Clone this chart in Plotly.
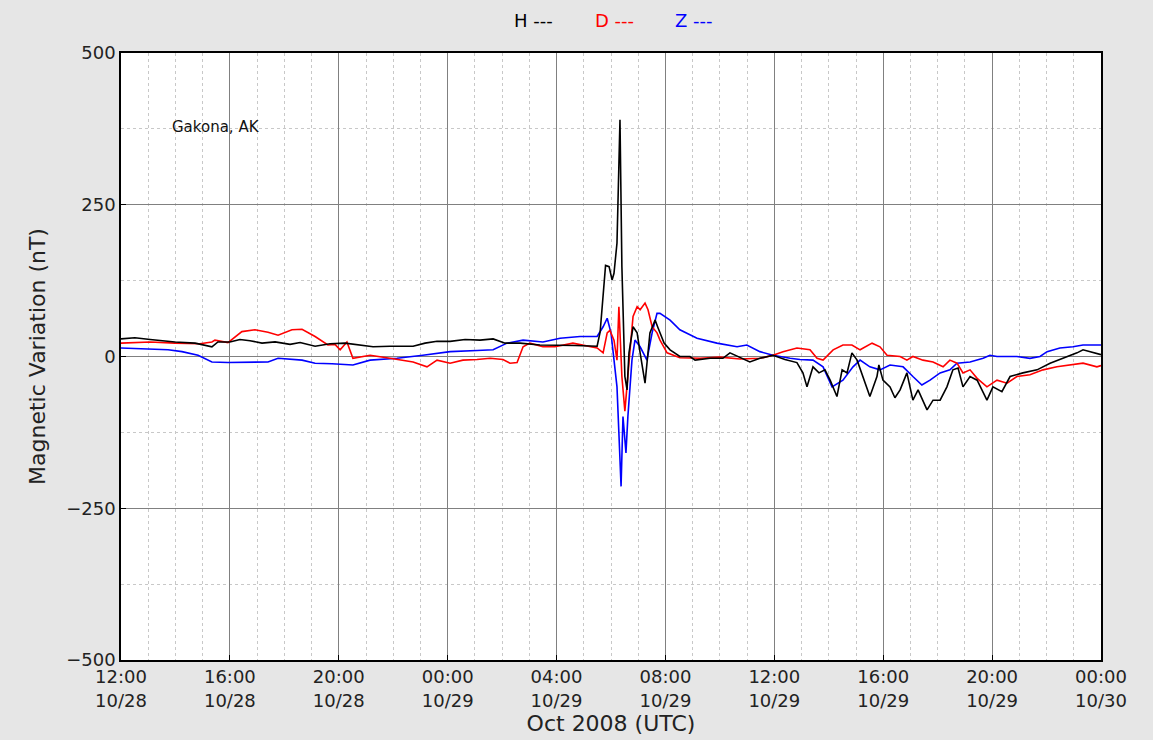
import pandas as pd
import plotly.graph_objects as go

# Hours after 2008-10-28 12:00 UTC, and magnetic variation (nT)
h_t = [0, 0.51, 1.07, 1.98, 2.72, 3.34, 3.56, 4.00, 4.37, 4.74, 5.18, 5.66, 6.21, 6.58, 7.13, 7.68,
       8.23, 8.60, 9.26, 9.88, 10.73, 11.17, 11.61, 12.09, 12.64, 13.19, 13.67, 14.11, 14.66, 15.39,
       16.02, 16.68, 17.49, 17.60, 17.80, 17.93, 18.04, 18.11, 18.22, 18.33, 18.40, 18.51, 18.59, 18.66,
       18.81, 18.96, 19.07, 19.25, 19.43, 19.62, 19.73, 19.95, 20.17, 20.53, 20.90, 21.09, 21.64,
       22.11, 22.37, 22.55, 23.10, 23.47, 23.95, 24.39, 24.83, 25.05, 25.20, 25.42, 25.64, 25.86,
       26.05, 26.30, 26.49, 26.67, 26.85, 27.04, 27.26, 27.51, 27.77, 27.84, 27.99, 28.25, 28.43,
       28.62, 28.87, 29.09, 29.28, 29.61, 29.83, 30.09, 30.34, 30.56, 30.75, 30.93, 31.19, 31.45,
       31.81, 32.03, 32.36, 32.66, 33.13, 33.65, 34.13, 34.60, 35.12, 35.34, 35.71, 36.00]
h_v = [29, 31, 28, 24, 22, 16, 24, 24, 28, 26, 22, 24, 20, 23, 17, 21,
       22, 20, 16, 17, 17, 22, 25, 25, 28, 27, 29, 22, 22, 19,
       19, 18, 17, 40, 150, 148, 126, 137, 187, 390, 148, -33, -55, 6,
       49, 39, 6, -44, 39, 60, 47, 22, 11, 0, 0, -6, -3,
       -3, 6, 2, -9, -3, 2, -5, -10, -27, -50, -17, -27, -22,
       -39, -66, -22, -27, 6, -6, -33, -66, -33, -14, -39, -50, -68,
       -55, -27, -72, -55, -88, -72, -72, -50, -22, -19, -50, -33, -39,
       -72, -50, -58, -33, -27, -22, -11, -3, 6, 11, 6, 3]

d_t = [0, 1.07, 1.98, 2.90, 3.34, 3.45, 3.93, 4.44, 4.92, 5.40, 5.77, 6.28, 6.65, 7.13, 7.60, 7.86,
       8.05, 8.30, 8.52, 9.15, 9.88, 10.73, 11.24, 11.61, 12.09, 12.56, 13.08, 13.56, 14.03, 14.29,
       14.55, 14.77, 15.02, 15.50, 15.94, 16.60, 17.49, 17.71, 17.86, 17.96, 18.11, 18.22, 18.29,
       18.40, 18.51, 18.59, 18.70, 18.81, 18.96, 19.07, 19.25, 19.36, 19.51, 19.69, 19.80, 20.06,
       20.53, 21.27, 22.00, 22.74, 23.47, 23.95, 24.32, 24.83, 25.31, 25.57, 25.79, 26.16, 26.52,
       26.85, 27.15, 27.59, 27.88, 28.14, 28.62, 28.87, 29.09, 29.46, 29.83, 30.20, 30.45, 30.71,
       30.93, 31.19, 31.45, 31.81, 32.18, 32.55, 32.91, 33.39, 33.87, 34.38, 34.86, 35.34, 35.85, 36.00]
d_v = [22, 24, 22, 21, 24, 27, 23, 41, 44, 40, 35, 44, 45, 33, 19, 20,
       11, 24, -3, 2, -3, -9, -17, -6, -11, -6, -5, -3, -5, -11,
       -10, 16, 22, 16, 16, 22, 14, 6, 39, 43, 27, -6, 82,
       -33, -90, -44, 11, 66, 82, 77, 88, 77, 49, 39, 27, 6,
       -2, -3, -1, -4, -3, 2, 8, 14, 11, -3, -6, 11, 19,
       19, 11, 22, 16, 2, 0, -6, 0, -6, -9, -17, -6, -11,
       -27, -22, -36, -50, -39, -44, -33, -30, -22, -17, -14, -11, -17, -15]

z_t = [0, 1.73, 2.24, 2.83, 3.34, 3.93, 5.40, 5.77, 6.65, 7.13, 7.75, 8.52, 9.15, 10.14, 11.09,
       12.09, 13.08, 13.67, 14.18, 14.77, 15.50, 16.13, 16.86, 17.49, 17.71, 17.86, 18.00, 18.11,
       18.22, 18.29, 18.37, 18.44, 18.55, 18.62, 18.77, 18.88, 19.07, 19.32, 19.51, 19.69, 19.80,
       20.17, 20.53, 21.16, 21.89, 22.63, 22.99, 23.47, 23.95, 24.58, 24.94, 25.42, 25.79, 26.12,
       26.52, 26.89, 27.15, 27.51, 27.88, 28.25, 28.73, 29.09, 29.42, 29.72, 30.09, 30.45, 30.71,
       31.19, 31.67, 31.92, 32.18, 32.91, 33.39, 33.76, 34.02, 34.49, 34.97, 35.34, 36.00]
z_v = [14, 11, 8, 2, -9, -10, -9, -3, -6, -11, -12, -14, -6, -3, 2,
       8, 10, 11, 22, 27, 24, 30, 33, 33, 49, 63, 39, -6,
       -50, -126, -214, -99, -159, -99, -6, 27, 16, -6, 39, 71, 71,
       60, 44, 30, 22, 16, 19, 8, 2, -3, -5, -6, -17, -50,
       -39, -17, -6, -17, -22, -14, -17, -33, -47, -39, -27, -22, -11,
       -9, -3, 2, 0, 0, -3, 0, 8, 14, 16, 19, 19]

start = pd.Timestamp("2008-10-28 12:00")
tick_labels = ["12:00<br>10/28", "16:00<br>10/28", "20:00<br>10/28", "00:00<br>10/29",
               "04:00<br>10/29", "08:00<br>10/29", "12:00<br>10/29", "16:00<br>10/29",
               "20:00<br>10/29", "00:00<br>10/30"]
tick_hours = [0, 4, 8, 12, 16, 20, 24, 28, 32, 36]
y_ticks = [500, 250, 0, -250, -500]


def to_time(hours):
    return [start + pd.Timedelta(hours=h) for h in hours]


fig = go.Figure()
for t, v, col in [(z_t, z_v, "#0000ff"), (d_t, d_v, "#ff0000"), (h_t, h_v, "#000000")]:
    fig.add_trace(go.Scatter(x=to_time(t), y=v, mode="lines",
                             line=dict(color=col, width=1.6), showlegend=False))

font = dict(family="DejaVu Sans", size=18, color="#222222")
small = dict(family="DejaVu Sans", size=15, color="#111111")
fig.update_layout(
    width=1153, height=740,
    paper_bgcolor="#e6e6e6", plot_bgcolor="#ffffff",
    margin=dict(l=121, r=52, t=53, b=80),
    font=font,
    xaxis=dict(
        range=[start, start + pd.Timedelta(hours=36)],
        tickvals=to_time(tick_hours), ticktext=tick_labels,
        showline=True, linecolor="#000000", linewidth=1.5, mirror=True,
        showgrid=True, gridcolor="#808080", gridwidth=1,
        ticks="inside", ticklen=5, tickcolor="#000000",
        minor=dict(dtick=3600000, showgrid=True, gridcolor="#c8c8c8", griddash="dot", gridwidth=1),
        title=dict(text="Oct 2008 (UTC)", standoff=2),
        zeroline=False,
    ),
    yaxis=dict(
        range=[-500, 500], tickvals=y_ticks,
        showline=True, linecolor="#000000", linewidth=1.5, mirror=True,
        showgrid=True, gridcolor="#808080", gridwidth=1,
        ticks="inside", ticklen=5, tickcolor="#000000",
        minor=dict(dtick=125, showgrid=True, gridcolor="#c8c8c8", griddash="dot", gridwidth=1),
        title=dict(text="Magnetic Variation (nT)", standoff=14),
        zeroline=False,
    ),
    annotations=[
        dict(text="Gakona, AK", xref="paper", yref="paper", x=0.05, y=0.878,
             xanchor="left", yanchor="middle", showarrow=False, font=small),
        dict(text="H ---", xref="paper", yref="paper", x=0.421, y=1.054,
             xanchor="center", yanchor="middle", showarrow=False,
             font=dict(family="DejaVu Sans", size=18, color="#000000")),
        dict(text="D ---", xref="paper", yref="paper", x=0.504, y=1.054,
             xanchor="center", yanchor="middle", showarrow=False,
             font=dict(family="DejaVu Sans", size=18, color="#ff0000")),
        dict(text="Z ---", xref="paper", yref="paper", x=0.585, y=1.054,
             xanchor="center", yanchor="middle", showarrow=False,
             font=dict(family="DejaVu Sans", size=18, color="#0000ff")),
    ],
)

fig.write_html("out.html")
